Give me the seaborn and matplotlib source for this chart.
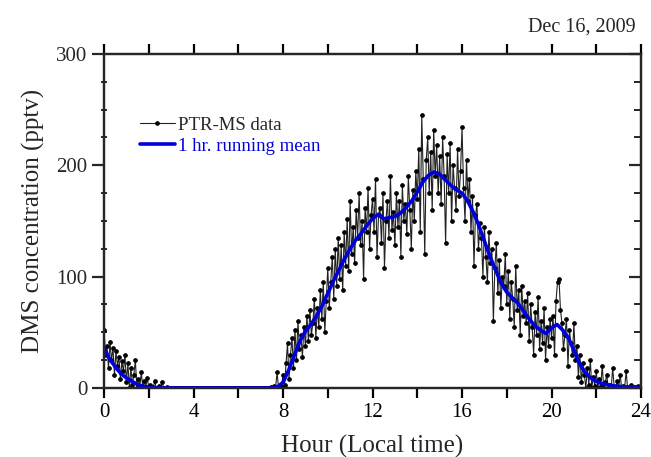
import numpy as np
import pandas as pd
import seaborn as sns
import matplotlib.pyplot as plt

# PTR-MS DMS readings, 4-minute steps, one row per hour (0h ... 23h) + midnight
ptr_ms = (
    [52, 30, 38, 18, 41, 25, 36, 12, 33, 20, 28, 8, 24, 15, 30] +
    [5, 22, 0, 18, 3, 12, 25, 0, 8, 2, 14, 0, 6, 1, 9] +
    [0, 3, 0, 1, 6, 0, 0, 2, 0, 5, 0, 0, 1, 0, 0] +
    [0, 0, 0, 0, 0, 0, 0, 0, 0, 0, 0, 0, 0, 0, 0] +
    [0, 0, 0, 0, 0, 0, 0, 0, 0, 0, 0, 0, 0, 0, 0] +
    [0, 0, 0, 0, 0, 0, 0, 0, 0, 0, 0, 0, 0, 0, 0] +
    [0, 0, 0, 0, 0, 0, 0, 0, 0, 0, 0, 0, 0, 0, 0] +
    [0, 0, 0, 0, 0, 0, 0, 1, 0, 2, 0, 14, 0, 3, 1] +
    [12, 3, 22, 40, 8, 30, 45, 18, 52, 25, 60, 35, 48, 28, 55] +
    [38, 65, 42, 70, 48, 58, 80, 45, 72, 55, 88, 62, 95, 50, 78] +
    [108, 72, 95, 118, 80, 125, 92, 135, 98, 128, 88, 140, 110, 152, 105] +
    [168, 120, 145, 112, 160, 135, 175, 128, 150, 98, 162, 140, 180, 125, 155] +
    [170, 140, 188, 118, 155, 162, 130, 175, 108, 150, 168, 135, 190, 142, 158] +
    [128, 175, 145, 168, 118, 182, 150, 165, 138, 190, 160, 125, 178, 150, 195] +
    [170, 215, 140, 245, 188, 120, 205, 225, 175, 212, 160, 232, 190, 218, 175] +
    [208, 165, 225, 190, 130, 210, 175, 220, 150, 200, 180, 160, 215, 172, 195] +
    [234, 180, 150, 205, 168, 188, 140, 172, 110, 155, 165, 125, 148, 135, 100] +
    [145, 118, 95, 140, 112, 125, 60, 108, 130, 85, 115, 72, 100, 92, 120] +
    [75, 105, 62, 95, 80, 55, 110, 70, 88, 48, 92, 65, 78, 58, 85] +
    [42, 75, 55, 30, 68, 48, 82, 35, 60, 40, 72, 25, 55, 38, 62] +
    [45, 65, 30, 78, 95, 98, 70, 58, 35, 48, 62, 20, 52, 40, 30] +
    [58, 25, 38, 10, 30, 5, 22, 12, 0, 18, 3, 25, 0, 10, 2] +
    [15, 0, 8, 2, 20, 0, 5, 12, 0, 3, 0, 18, 1, 0, 6] +
    [0, 12, 0, 2, 0, 15, 0, 0, 3, 0, 1, 0, 0, 2, 0] +
    [0]
)

# 1 hr running mean, 15-minute steps
run_mean = [36, 26, 19, 13, 9, 6, 3, 1.5, 0.5,
            0, 0, 0, 0, 0, 0, 0, 0, 0, 0, 0, 0, 0, 0, 0, 0, 0, 0, 0, 0, 0, 0,
            1, 5, 16, 29, 42, 51, 57, 65, 74, 85, 96, 106, 116, 125, 133, 139,
            146, 152, 156, 152, 153, 154, 157, 162, 168, 176, 185, 191, 194, 192,
            187, 182, 178, 175, 168, 158, 146, 132, 118, 106, 94, 86, 81, 76, 69,
            62, 56, 52, 49, 54, 57, 52, 45, 34, 22, 14, 9, 6, 4, 3, 2, 1.5,
            1, 1, 1, 1]

df = pd.DataFrame({'hour': np.linspace(0, 24, len(ptr_ms)), 'dms': ptr_ms})
dm = pd.DataFrame({'hour': np.linspace(0, 24, len(run_mean)), 'dms': run_mean})

sns.set_theme(style='ticks')
plt.rcParams['font.family'] = ['Liberation Serif', 'DejaVu Serif']
plt.rcParams['axes.linewidth'] = 1.6

fig = plt.figure(figsize=(6.51, 4.57), dpi=100)
ax = fig.add_axes([0.1598, 0.151, 0.8249, 0.7309])

sns.lineplot(x='hour', y='dms', data=df, ax=ax, color='#222222', linewidth=0.8,
             marker='o', markersize=2.6, markerfacecolor='black',
             markeredgecolor='black', label='PTR-MS data', zorder=2)
sns.lineplot(x='hour', y='dms', data=dm, ax=ax, color='#0000dd', linewidth=2.6,
             label='1 hr. running mean', zorder=3)

ax.set_xlim(0, 24)
ax.set_ylim(0, 300)
ax.set_xticks(range(0, 25, 4))
ax.set_xticks(range(2, 24, 4), minor=True)
ax.set_yticks([0, 100, 200, 300])
ax.set_yticks([v for v in range(25, 300, 25) if v % 100], minor=True)
ax.tick_params(axis='x', which='both', direction='out', length=7, width=1.6,
               top=True, labelsize=15, pad=4, colors='black')
ax.tick_params(axis='y', which='major', direction='out', length=9, width=1.6,
               labelsize=15, pad=3, right=False)
ax.tick_params(axis='y', which='minor', direction='inout', length=5, width=1.4,
               right=False)

ax2 = ax.twinx()
ax2.set_ylim(0, 300)
ax2.set_yticks([0, 100, 200, 300])
ax2.set_yticks([v for v in range(25, 300, 25) if v % 100], minor=True)
ax2.tick_params(axis='y', which='major', direction='in', length=9, width=1.6,
                labelright=False)
ax2.tick_params(axis='y', which='minor', direction='in', length=5, width=1.4)

ax.set_xlabel('Hour (Local time)', fontsize=18, labelpad=9)
ax.set_ylabel('DMS concentration (pptv)', fontsize=18, labelpad=8)

leg = ax.legend(loc='upper left', bbox_to_anchor=(0.067, 0.812), frameon=False,
                fontsize=13.5, handlelength=1.85, handletextpad=0.2,
                labelspacing=0.2, borderpad=0, borderaxespad=0, numpoints=1)
leg.get_texts()[1].set_color('#0000dd')

fig.text(0.977, 0.941, 'Dec 16, 2009', fontsize=14.5, ha='right', va='center')

fig.savefig('out.png', dpi=100)
